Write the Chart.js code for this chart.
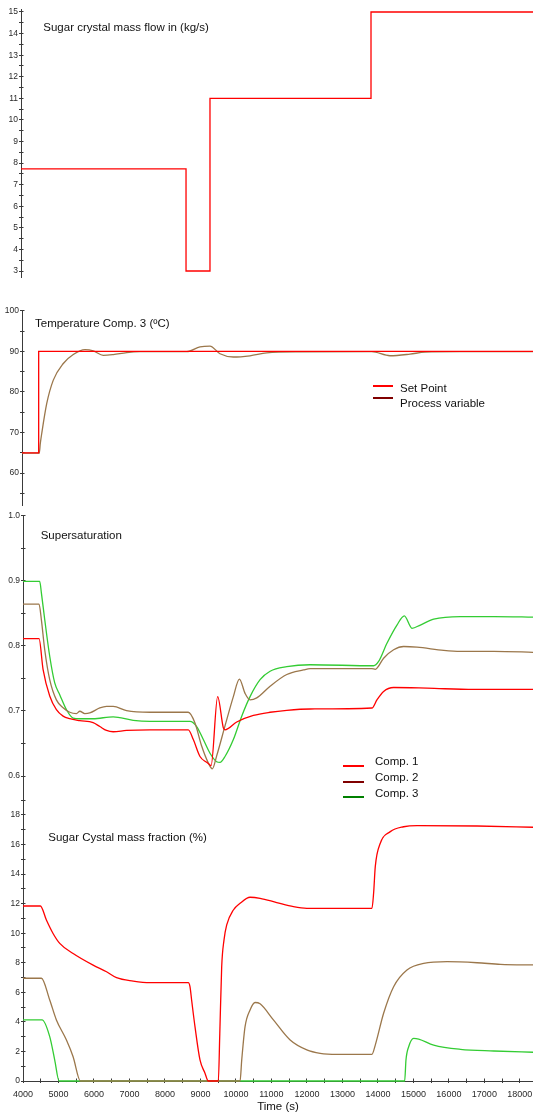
<!DOCTYPE html>
<html><head><meta charset="utf-8">
<script src="https://cdn.jsdelivr.net/npm/chart.js@4.4.1/dist/chart.umd.min.js"></script>
<style>
html,body{margin:0;padding:0;background:#fff;}
body{width:533px;height:1114px;position:relative;overflow:hidden;font-family:"Liberation Sans",Arial,sans-serif;}
canvas{position:absolute;left:0;}
.t{position:absolute;font-size:11.5px;line-height:11.5px;white-space:nowrap;color:#111;}
.lg{position:absolute;height:2px;}
</style></head><body>
<canvas id="c1" width="533" height="290" style="top:0px"></canvas>
<canvas id="c2" width="533" height="220" style="top:295px"></canvas>
<canvas id="c3" width="533" height="320" style="top:503px"></canvas>
<canvas id="c4" width="533" height="326" style="top:788px"></canvas>

<div class="t" style="left:43.3px;top:22px">Sugar crystal mass flow in (kg/s)</div>
<div class="t" style="left:35px;top:317.8px">Temperature Comp. 3 (ºC)</div>
<div class="t" style="left:40.7px;top:530.3px">Supersaturation</div>
<div class="t" style="left:48.3px;top:831.6px">Sugar Cystal mass fraction (%)</div>

<div class="lg" style="left:373px;top:385px;width:20px;background:#ff0000"></div>
<div class="t" style="left:400px;top:382.6px">Set Point</div>
<div class="lg" style="left:373px;top:397.3px;width:20px;background:#800000"></div>
<div class="t" style="left:400px;top:397.6px">Process variable</div>

<div class="lg" style="left:343px;top:764.7px;width:21px;background:#ff0000"></div>
<div class="t" style="left:375px;top:756.3px">Comp. 1</div>
<div class="lg" style="left:343px;top:780.7px;width:21px;background:#800000"></div>
<div class="t" style="left:375px;top:772.3px">Comp. 2</div>
<div class="lg" style="left:343px;top:796.3px;width:21px;background:#008000"></div>
<div class="t" style="left:375px;top:787.6px">Comp. 3</div>

<script>
// ---------------- DATA ----------------
// Sugar crystal mass flow in (kg/s)  [time s, value]
const flowIn = [[4000,7.73],[8650,7.73],[8650,3],[9325,3],[9325,11],[13862,11],[13862,15],[18450,15]];

// Temperature Comp. 3 (ºC)
const tempSetPoint = [[4000,65],[4470,65],[4470,90],[18450,90]];
const tempProcess = [[4000,64.9],[4487,64.9],[4516,67.3],[4555,69.7],[4696,77.1],[4882,82.9],[5164,87.0],[5445,89.2],
  [5775,90.4],[6009,90.1],[6291,89.0],[6573,89.2],[6950,89.7],[7325,89.9],[8641,89.9],[9015,91.1],[9297,91.3],
  [9579,89.4],[9954,88.6],[10424,88.9],[10895,89.6],[11833,89.85],[13853,89.9],[14369,88.9],[14932,89.3],
  [15355,89.8],[16341,89.9],[18450,89.9]];

// Supersaturation
const ssComp1 = [[4000,0.811],[4452,0.811],[4565,0.764],[4753,0.723],[4941,0.702],[5130,0.692],[5318,0.688],[5600,0.685],
  [5976,0.682],[6164,0.676],[6353,0.670],[6541,0.668],[6917,0.670],[7576,0.671],[8657,0.671],[8799,0.656],[8987,0.630],
  [9175,0.621],[9269,0.617],[9300,0.616],[9485,0.722],[9645,0.674],[9692,0.671],[10022,0.683],[10492,0.693],[10962,0.698],
  [11433,0.701],[12092,0.703],[13832,0.7045],[13973,0.717],[14161,0.730],[14443,0.736],[15384,0.735],[16701,0.733],[18450,0.733]];
const ssComp2 = [[4000,0.864],[4452,0.864],[4518,0.840],[4612,0.794],[4753,0.748],[4941,0.717],[5130,0.705],[5318,0.698],
  [5506,0.696],[5600,0.6995],[5741,0.696],[5882,0.697],[6164,0.7046],[6353,0.707],[6541,0.707],[6917,0.7005],[7576,0.698],
  [8657,0.698],[8846,0.6815],[9034,0.646],[9222,0.620],[9335,0.611],[9457,0.631],[9692,0.677],[9927,0.722],[10097,0.749],
  [10257,0.727],[10398,0.717],[10586,0.720],[10962,0.738],[11433,0.756],[11903,0.763],[12091,0.765],[12562,0.765],
  [13832,0.765],[13926,0.764],[14161,0.781],[14443,0.794],[14725,0.799],[15102,0.798],[15854,0.793],[16325,0.7915],
  [17266,0.7915],[18450,0.790]];
const ssComp3 = [[4000,0.899],[4471,0.899],[4518,0.8815],[4612,0.8405],[4753,0.784],[4894,0.743],[5035,0.725],[5224,0.702],
  [5412,0.689],[5600,0.688],[5976,0.688],[6541,0.691],[7105,0.6856],[7576,0.684],[8704,0.684],[8893,0.676],[9081,0.656],
  [9269,0.635],[9457,0.622],[9551,0.621],[9692,0.630],[9927,0.656],[10163,0.692],[10398,0.722],[10680,0.748],[10962,0.761],
  [11433,0.768],[12092,0.771],[13879,0.7694],[14020,0.776],[14255,0.804],[14537,0.832],[14744,0.846],[14961,0.827],
  [15196,0.832],[15572,0.841],[16325,0.845],[17266,0.845],[18450,0.844]];

// Sugar crystal mass fraction (%)
const mfComp1 = [[4000,11.84],[4490,11.84],[4659,10.89],[4847,9.98],[5035,9.31],[5412,8.63],[5976,7.84],[6353,7.39],
  [6635,6.99],[7105,6.76],[7576,6.65],[8658,6.65],[8705,6.38],[8751,5.48],[8846,3.68],[8987,1.43],[9128,0.53],[9222,0],
  [9504,0],[9545,3.2],[9598,7.7],[9664,9.55],[9740,10.56],[9928,11.57],[10116,12.02],[10398,12.43],[10680,12.36],
  [11150,12.07],[11621,11.79],[11997,11.68],[13832,11.68],[13879,12.7],[13926,14.5],[14067,16.08],[14349,16.87],
  [14725,17.2],[15102,17.28],[16795,17.25],[18450,17.16]];
const mfComp2 = [[4000,6.95],[4518,6.95],[4753,5.48],[4941,4.13],[5224,2.77],[5412,1.64],[5619,0],[10116,0],[10163,1.42],
  [10257,3.68],[10398,4.81],[10539,5.31],[10680,5.22],[11056,4.13],[11527,2.77],[11997,2.1],[12373,1.87],[12844,1.80],
  [13832,1.80],[13926,2.43],[14161,4.58],[14443,6.38],[14819,7.51],[15290,7.96],[15949,8.07],[16795,8.0],[17454,7.89],[18450,7.85]];
const mfComp3 = [[4000,4.13],[4537,4.13],[4753,3.0],[4894,1.42],[5017,0],[14754,0],[14791,1.42],[14867,2.32],[15008,2.89],
  [15149,2.84],[15572,2.43],[16325,2.14],[17266,2.03],[18450,1.94]];

// Tick labels
const flowTickLabels = ['3','4','5','6','7','8','9','10','11','12','13','14','15'];
const tempTickLabels = ['60','70','80','90','100'];
const ssTickLabels = ['0.6','0.7','0.8','0.9','1.0'];
const mfTickLabels = ['0','2','4','6','8','10','12','14','16','18'];
const timeTickLabels = ['4000','5000','6000','7000','8000','9000','10000','11000','12000','13000','14000','15000','16000','17000','18000'];
const timeTitle = 'Time (s)';

// ---------------- STYLE ----------------
const RED = '#ff0000', BROWN = '#9b774b', GREEN = '#33cc33';
const AXIS_COLOR = '#3a3a3a', TICK_COLOR = '#2a2a2a';
const FONT = '"Liberation Sans", Arial, sans-serif';
const PX_PER_S = 0.03549;
const X_MIN = 4000;

function tickValues(min, max, step) {
  const out = [];
  for (let k = Math.ceil(min / step - 1e-9); k * step <= max + 1e-9; k++) out.push(+(k * step).toFixed(6));
  return out;
}
function labelFor(labels, v) {
  const l = labels.find(s => Math.abs(parseFloat(s) - v) < 1e-6);
  return l === undefined ? '' : l;
}

const innerTicks = {
  id: 'innerTicks',
  beforeDatasetsDraw(chart) {
    const ctx = chart.ctx, a = chart.chartArea;
    ctx.save();
    ctx.strokeStyle = AXIS_COLOR; ctx.lineWidth = 1;
    for (const id in chart.scales) {
      const s = chart.scales[id];
      if (!s.options.display) continue;
      s.ticks.forEach((t, i) => {
        const p = Math.round(s.getPixelForTick(i) - 0.5) + 0.5;
        ctx.beginPath();
        if (s.isHorizontal()) { ctx.moveTo(p, a.bottom); ctx.lineTo(p, a.bottom - 2.5); }
        else { ctx.moveTo(a.left, p); ctx.lineTo(a.left + 2.5, p); }
        ctx.stroke();
      });
    }
    ctx.restore();
  }
};

function makeChart(id, cfg) {
  const axisW = cfg.axisW;
  const xMax = X_MIN + (533 - axisW) / PX_PER_S;
  const yT = tickValues(cfg.yMin, cfg.yMax, cfg.yStep);
  const xScale = {
    type: 'linear', position: 'bottom', min: X_MIN, max: xMax, display: !!cfg.showX,
    afterBuildTicks: s => { s.ticks = tickValues(X_MIN, 18000, 500).map(v => ({value: v})); s.min = X_MIN; s.max = xMax; },
    afterFit: s => { if (cfg.showX) s.height = 33; s.paddingLeft = 0; s.paddingRight = 0; },
    ticks: { autoSkip: false, maxRotation: 0, minRotation: 0, padding: 6, color: TICK_COLOR,
      font: { family: FONT, size: 9 }, callback: v => labelFor(timeTickLabels, v) },
    grid: { drawOnChartArea: false, drawTicks: true, tickLength: 2, color: AXIS_COLOR, lineWidth: 1 },
    border: { display: true, color: AXIS_COLOR, width: 1 },
    title: { display: !!cfg.showX, text: timeTitle, color: '#111', padding: 0, font: { family: FONT, size: 11.5 } }
  };
  new Chart(document.getElementById(id), {
    type: 'scatter',
    data: { datasets: cfg.series.map(s => ({
      data: s.pts.map(p => ({x: p[0], y: p[1]})),
      borderColor: s.color, backgroundColor: s.color, borderWidth: 1.3,
      cubicInterpolationMode: s.smooth ? 'monotone' : 'default',
      showLine: true, pointRadius: 0, tension: 0, fill: false, clip: false })) },
    options: {
      responsive: false, animation: false, devicePixelRatio: 1, events: [],
      layout: { padding: { top: cfg.padTop, bottom: cfg.padBottom, left: 0, right: 0 } },
      plugins: { legend: { display: false }, tooltip: { enabled: false } },
      scales: {
        x: xScale,
        y: {
          type: 'linear', position: 'left', min: cfg.yMin, max: cfg.yMax,
          afterBuildTicks: s => { s.ticks = yT.map(v => ({value: v})); s.min = cfg.yMin; s.max = cfg.yMax; },
          afterFit: s => { s.width = axisW; s.paddingTop = 0; s.paddingBottom = 0; s.paddingLeft = 0; s.paddingRight = 0; },
          ticks: { autoSkip: false, padding: 1, color: TICK_COLOR, font: { family: FONT, size: 8.5 },
            callback: v => labelFor(cfg.labels, v) },
          grid: { drawOnChartArea: false, drawTicks: true, tickLength: 2, color: AXIS_COLOR, lineWidth: 1 },
          border: { display: true, color: AXIS_COLOR, width: 1 }
        }
      }
    },
    plugins: [innerTicks]
  });
}

makeChart('c1', { axisW: 21, yMin: 2.7, yMax: 15.1, yStep: 0.5, labels: flowTickLabels,
  padTop: 9.84, padBottom: 12.5, series: [{pts: flowIn, color: RED}] });
makeChart('c2', { axisW: 22, yMin: 52, yMax: 100, yStep: 5, labels: tempTickLabels,
  padTop: 15.7, padBottom: 9.4, series: [{pts: tempSetPoint, color: RED}, {pts: tempProcess, color: BROWN, smooth: true}] });
makeChart('c3', { axisW: 23, yMin: 0.551, yMax: 1.0, yStep: 0.05, labels: ssTickLabels,
  padTop: 12.7, padBottom: 15.1, series: [{pts: ssComp1, color: RED, smooth: true}, {pts: ssComp2, color: BROWN, smooth: true}, {pts: ssComp3, color: GREEN, smooth: true}] });
makeChart('c4', { axisW: 23, yMin: 0, yMax: 19.05, yStep: 1, labels: mfTickLabels, showX: true,
  padTop: 11.4, padBottom: 0, series: [{pts: mfComp1, color: RED, smooth: true}, {pts: mfComp2, color: BROWN, smooth: true}, {pts: mfComp3, color: GREEN, smooth: true}] });
</script>
</body></html>
